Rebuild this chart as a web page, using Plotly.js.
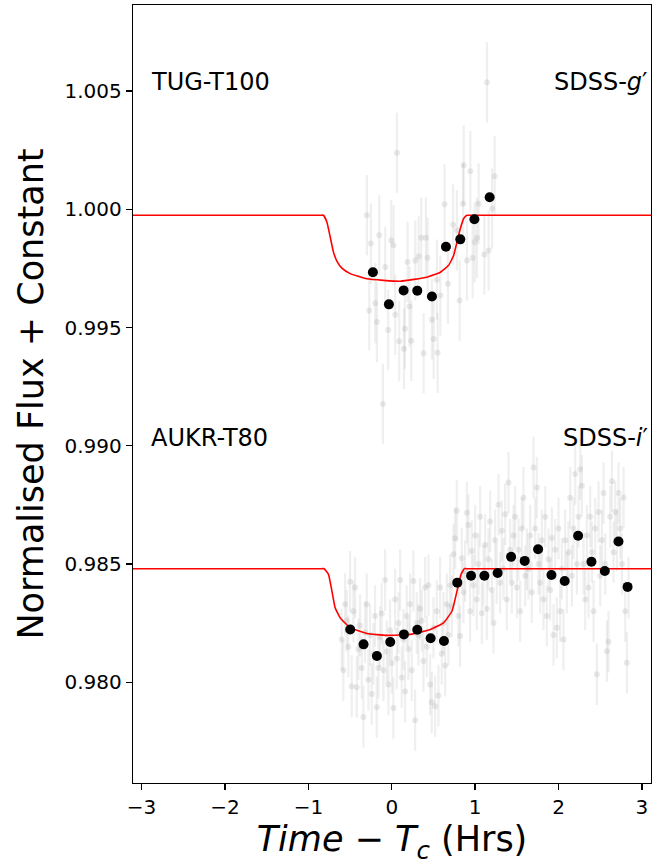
<!DOCTYPE html>
<html>
<head>
<meta charset="utf-8">
<script src="https://cdn.plot.ly/plotly-3.0.1.min.js"></script>
<style>html,body{margin:0;padding:0;background:#fff;}</style>
</head>
<body>
<div id="chart" style="width:670px;height:866px;"></div>
<script>
// ---------- TUG-T100, SDSS-g' (upper light curve) ----------
const gRawTime = [-0.298,-0.270,-0.250,-0.198,-0.178,-0.150,-0.106,-0.078,-0.042,-0.006,0.022,0.042,0.062,0.090,0.146,0.158,0.190,0.213,0.234,0.282,0.322,0.354,0.382,0.410,0.430,0.482,0.502,0.542,0.550,0.583,0.634,0.674,0.735,0.782,0.814,0.855,0.863,0.902,0.942,0.970,0.995,1.022,1.042,1.111,1.142,1.162,1.203,1.234];
const gRawFlux = [0.99975,0.99572,0.99855,0.99603,0.99523,0.99890,0.99177,0.99756,0.99490,0.99869,0.99848,0.99554,1.00239,0.99442,0.99410,0.99495,0.99777,0.99589,0.99444,0.99784,0.99801,0.99880,0.99391,0.99880,0.99795,0.99533,0.99452,0.99702,0.99393,0.99636,1.00021,0.99685,0.99935,0.99911,0.99614,1.00024,1.00186,0.99784,1.00161,0.99794,0.99861,0.99880,1.00024,0.99809,1.00537,0.99826,1.00003,1.00140];
const gRawErr = 0.0017;
const gBinTime = [-0.226,-0.034,0.142,0.306,0.482,0.650,0.822,0.991,1.174];
const gBinFlux = [0.99734,0.99598,0.99657,0.99656,0.99631,0.99842,0.99873,0.99958,1.00051];
const gModelTime = [-3.3,-2.0,-1.2,-0.9,-0.845,-0.819,-0.778,-0.738,-0.699,-0.658,-0.598,-0.498,-0.298,0.102,0.423,0.583,0.682,0.742,0.782,0.822,0.863,0.902,0.93,1.0,1.6,2.4,3.3];
const gModelFlux = [0.99975,0.99975,0.99975,0.99975,0.99975,0.99975,0.99946,0.99883,0.99819,0.99781,0.99751,0.99728,0.99706,0.99696,0.99713,0.99734,0.99763,0.99805,0.99861,0.99918,0.99961,0.99975,0.99975,0.99975,0.99975,0.99975,0.99975];

// ---------- AUKR-T80, SDSS-i' (lower light curve) ----------
const iRawTime = [
-0.60,-0.58,-0.56,-0.54,-0.52,-0.50,-0.48,-0.46,
-0.44,-0.42,-0.40,-0.38,-0.36,-0.34,-0.32,-0.30,
-0.28,-0.26,-0.24,-0.22,-0.20,-0.18,-0.16,-0.14,
-0.12,-0.10,-0.08,-0.06,-0.04,-0.02,0.00,0.02,
0.04,0.06,0.08,0.10,0.12,0.14,0.16,0.18,
0.20,0.22,0.24,0.26,0.28,0.30,0.32,0.34,
0.36,0.38,0.40,0.42,0.44,0.46,0.48,0.50,
0.52,0.54,0.56,0.58,0.60,0.62,0.64,0.66,
0.68,0.70,0.72,0.74,0.76,0.78,0.80,0.82,
0.84,0.86,0.88,0.90,0.92,0.94,0.96,0.98,
1.00,1.02,1.04,1.06,1.08,1.10,1.12,1.14,
1.16,1.18,1.20,1.22,1.24,1.26,1.28,1.30,
1.32,1.34,1.36,1.38,1.40,1.42,1.44,1.46,
1.48,1.50,1.52,1.54,1.56,1.58,1.60,1.62,
1.64,1.66,1.68,1.70,1.72,1.74,1.76,1.78,
1.80,1.82,1.84,1.86,1.88,1.90,1.92,1.94,
1.96,1.98,2.00,2.02,2.04,2.06,2.08,2.10,
2.12,2.14,2.16,2.18,2.20,2.22,2.24,2.26,
2.28,2.30,2.32,2.34,2.36,2.38,2.40,2.42,
2.44,2.46,2.48,2.50,2.52,2.54,2.56,2.58,
2.60,2.62,2.64,2.66,2.68,2.70,2.72,2.74,
2.76,2.78,2.80,2.82,2.84];
const iRawFlux = [
0.98180,0.98050,0.98330,0.98260,0.98150,0.98425,0.97983,0.98300,
0.98400,0.97979,0.98140,0.98240,0.98060,0.97853,0.98210,0.98330,
0.98010,0.98200,0.97950,0.98120,0.98280,0.97894,0.98060,0.98190,
0.98290,0.98050,0.98432,0.98130,0.97990,0.98220,0.98080,0.97891,
0.98350,0.98100,0.98250,0.98432,0.98020,0.98180,0.97960,0.98280,
0.98140,0.98330,0.98050,0.98428,0.97839,0.98250,0.98200,0.98310,
0.98260,0.98090,0.98400,0.98150,0.98410,0.97990,0.97915,0.98230,
0.97898,0.98300,0.97944,0.98400,0.98120,0.98250,0.98070,0.98330,
0.98200,0.98410,0.98320,0.98541,0.98609,0.98725,0.98280,0.98195,
0.98524,0.98380,0.98470,0.98717,0.98665,0.98300,0.98555,0.98410,
0.98620,0.98350,0.98500,0.98700,0.98291,0.98450,0.98580,0.98310,
0.98520,0.98680,0.98390,0.98250,0.98600,0.98460,0.98750,0.98420,
0.98640,0.98480,0.98710,0.98350,0.98845,0.98560,0.98420,0.98620,
0.98700,0.98400,0.98560,0.98300,0.98650,0.98780,0.98450,0.98520,
0.98480,0.98620,0.98380,0.98908,0.98650,0.98823,0.98500,0.98420,
0.98600,0.98350,0.98700,0.98280,0.98520,0.98390,0.98610,0.98200,
0.98560,0.98230,0.98650,0.98300,0.98480,0.98180,0.98600,0.98420,
0.98550,0.98780,0.98450,0.98650,0.98880,0.98500,0.98700,0.98901,
0.98831,0.98500,0.98350,0.98620,0.98400,0.98700,0.98550,0.98300,
0.98650,0.98033,0.98720,0.98450,0.98600,0.98800,0.98500,0.98131,
0.98171,0.98700,0.98850,0.98550,0.98720,0.98600,0.98800,0.98650,
0.98500,0.98781,0.98300,0.98082,0.98400];
const iRawErr = 0.0013;
const iBinTime = [-0.498,-0.338,-0.178,-0.018,0.146,0.306,0.466,0.626,0.786,0.951,1.111,1.270,1.431,1.594,1.755,1.915,2.074,2.235,2.395,2.555,2.719,2.828];
const iBinFlux = [0.98223,0.98160,0.98111,0.98170,0.98202,0.98222,0.98186,0.98174,0.98421,0.98450,0.98450,0.98462,0.98530,0.98513,0.98562,0.98453,0.98428,0.98619,0.98509,0.98470,0.98595,0.98403];
const iModelTime = [-3.3,-2.0,-1.2,-0.9,-0.84,-0.811,-0.759,-0.718,-0.679,-0.618,-0.498,-0.298,-0.057,0.222,0.463,0.621,0.723,0.783,0.831,0.870,0.90,1.0,1.6,2.4,3.3];
const iModelFlux = [0.98480,0.98480,0.98480,0.98480,0.98480,0.98480,0.98456,0.98386,0.98315,0.98272,0.98230,0.98206,0.98198,0.98202,0.98223,0.98251,0.98301,0.98386,0.98456,0.98480,0.98480,0.98480,0.98480,0.98480,0.98480];

const yTicks = [0.980,0.985,0.990,0.995,1.000,1.005];
const xTicks = [-3,-2,-1,0,1,2,3];

const rawMarker = {color:'rgba(150,150,150,0.2)', size:6};
const rawErr = (v)=>({type:'constant', value:v, color:'rgba(175,175,175,0.2)', thickness:2.2, width:0});

const traces = [
  {x:gRawTime, y:gRawFlux, mode:'markers', type:'scatter', marker:rawMarker, error_y:rawErr(gRawErr), hoverinfo:'skip'},
  {x:iRawTime, y:iRawFlux, mode:'markers', type:'scatter', marker:rawMarker, error_y:rawErr(iRawErr), hoverinfo:'skip'},
  {x:gModelTime, y:gModelFlux, mode:'lines', type:'scatter', line:{color:'#ff0000', width:1.6, shape:'spline', smoothing:0.4}},
  {x:iModelTime, y:iModelFlux, mode:'lines', type:'scatter', line:{color:'#ff0000', width:1.6, shape:'spline', smoothing:0.4}},
  {x:gBinTime, y:gBinFlux, mode:'markers', type:'scatter', marker:{color:'#000', size:10}},
  {x:iBinTime, y:iBinFlux, mode:'markers', type:'scatter', marker:{color:'#000', size:10}}
];

const fam = 'DejaVu Sans, sans-serif';
const layout = {
  width:670, height:866,
  margin:{l:133, r:19, t:5, b:83},
  paper_bgcolor:'#fff', plot_bgcolor:'#fff',
  showlegend:false,
  font:{family:fam, color:'#000'},
  xaxis:{
    range:[-3.103, 3.109], tickvals:xTicks, ticks:'outside', ticklen:6, tickwidth:1.3, tickcolor:'#000',
    showline:true, linecolor:'#000', linewidth:1.3, mirror:true, showgrid:false, zeroline:false,
    tickfont:{size:20, family:fam},
    title:{text:'<i>Time</i> − <i>T</i><sub><i>c</i></sub> (Hrs)', font:{size:35, family:fam}, standoff:8}
  },
  yaxis:{
    range:[0.975735, 1.008642], tickvals:yTicks, tickformat:'.3f', ticks:'outside', ticklen:6, tickwidth:1.3, tickcolor:'#000',
    showline:true, linecolor:'#000', linewidth:1.3, mirror:true, showgrid:false, zeroline:false,
    tickfont:{size:20, family:fam},
    title:{text:'Normalised Flux + Constant', font:{size:35, family:fam}, standoff:10}
  },
  annotations:[
    {xref:'paper', yref:'paper', x:0.031, y:0.901, xanchor:'left', yanchor:'middle', text:'TUG-T100', showarrow:false, font:{size:24, family:fam}},
    {xref:'paper', yref:'paper', x:0.999, y:0.901, xanchor:'right', yanchor:'middle', text:'SDSS-<i>g</i>′', showarrow:false, font:{size:24, family:fam}},
    {xref:'paper', yref:'paper', x:0.031, y:0.444, xanchor:'left', yanchor:'middle', text:'AUKR-T80', showarrow:false, font:{size:24, family:fam}},
    {xref:'paper', yref:'paper', x:0.999, y:0.444, xanchor:'right', yanchor:'middle', text:'SDSS-<i>i</i>′', showarrow:false, font:{size:24, family:fam}}
  ]
};

Plotly.newPlot('chart', traces, layout, {staticPlot:true, displayModeBar:false});
</script>
</body>
</html>
